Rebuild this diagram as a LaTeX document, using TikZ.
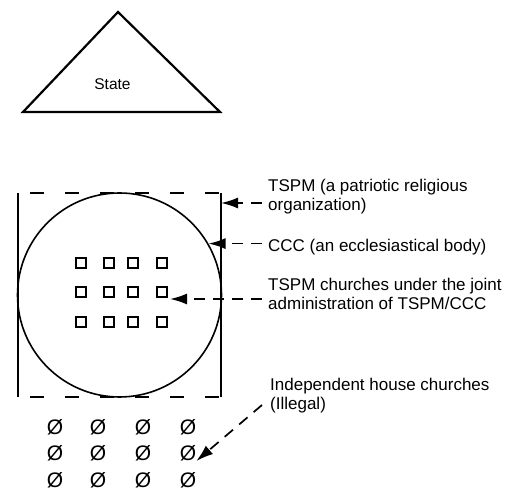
\documentclass[tikz,border=0pt]{standalone}
\usepackage{fontspec}
\setmainfont{Liberation Sans}
\usetikzlibrary{arrows.meta}

\tikzset{
  lbl/.style={anchor=base west, inner sep=0pt, align=left,
    font=\fontsize{17}{19}\selectfont},
  pointer/.style={-{Latex[length=17pt,width=11pt]}, line width=1.7pt,
    dash pattern=on 11pt off 8pt},
  church/.style={draw, line width=1.7pt, minimum size=10pt, inner sep=0pt},
  hchurch/.style={inner sep=0pt, font=\fontsize{21}{21}\selectfont}
}

\begin{document}
\begin{tikzpicture}[x=1pt,y=-1pt]
\useasboundingbox (0,0) rectangle (512,494);
% State
\draw[line width=2.2pt, line join=miter] (118,12) -- (220,112) -- (23,112) -- cycle;
\node[anchor=base, inner sep=0pt, font=\fontsize{15.5}{15.5}\selectfont] (state) at (112.5,90) {State};
% TSPM box and CCC circle
\draw[line width=1.9pt] (18,193) -- (18,397) (221,193) -- (221,397);
\draw[line width=1.7pt, dash pattern=on 14pt off 21pt] (30,193) -- (221,193) (30,397) -- (221,397);
\node[circle, draw, line width=1.6pt, minimum size=204pt, inner sep=0pt] (ccc) at (119.5,295) {};
% TSPM churches
\foreach \x in {81,109,133,162}{
  \foreach \y in {263,292,322}{
    \node[church] (c\x\y) at (\x,\y) {};
  }
}
% house churches
\foreach \x in {55,98,143,188}{
  \foreach \y in {427,453,480}{
    \node[hchurch] (h\x\y) at (\x,\y) {Ø};
  }
}
% labels (base = last line)
\node[lbl] (tspm) at (268,211) {TSPM (a patriotic religious\\organization)};
\node[lbl] (cccl) at (268,252) {CCC (an ecclesiastical body)};
\node[lbl] (joint) at (268,310) {TSPM churches under the joint\\administration of TSPM/CCC};
\node[lbl] (indep) at (270,410) {Independent house churches\\(Illegal)};
% arrows
\coordinate (tspmtip) at (221,203);
\coordinate (jointtip) at (170,299);
\coordinate (indepstart) at (262,405);
\draw[pointer] ([xshift=-6pt]tspm.west |- tspmtip) -- (tspmtip);
\draw[pointer] ([xshift=-6pt]cccl.west |- ccc.30) -- (ccc.30);
\draw[pointer] ([xshift=-6pt]joint.west |- jointtip) -- (jointtip);
\draw[pointer] (indepstart) -- (h188453.south east);
\end{tikzpicture}
\end{document}
